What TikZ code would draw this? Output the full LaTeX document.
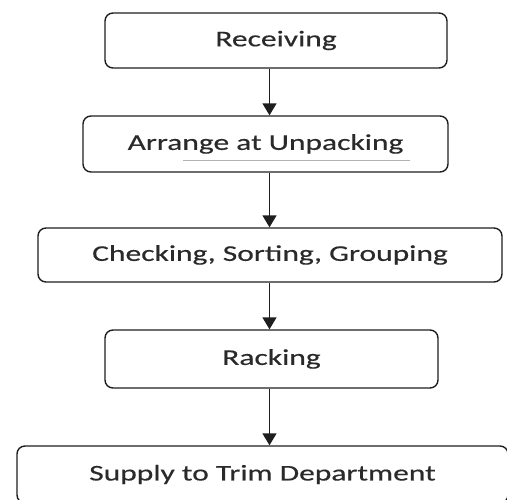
\documentclass[tikz,border=0pt]{standalone}
\usepackage{fontspec}
\newfontfamily\bxfont[FakeStretch=1.40,FakeBold=0.4]{Carlito}
\usetikzlibrary{arrows.meta}
\definecolor{txt}{HTML}{2A2A2A}
\definecolor{edge}{HTML}{1E1E1E}
\tikzset{
  stepbox/.style={draw=edge, line width=1.4pt, rounded corners=8pt, inner sep=0pt,
    text=txt, font=\bxfont\fontsize{22.5}{25}\selectfont},
  arr/.style={draw=edge, line width=1.5pt, -{Triangle[width=14pt,length=12pt]}}
}
\begin{document}
\begin{tikzpicture}[x=1pt,y=-1pt]
\useasboundingbox (0,0) rectangle (507,500);
\clip (0,0) rectangle (507,500);
\node[stepbox, minimum width=342pt, minimum height=55pt] (b1) at (276,40.5) {Receiving};
\node[stepbox, minimum width=365pt, minimum height=56pt] (b2) at (265.5,144) {Arrange at Unpacking};
\node[stepbox, minimum width=464pt, minimum height=54pt] (b3) at (270,255) {Checking, Sorting, Grouping};
\node[stepbox, minimum width=333pt, minimum height=58pt] (b4) at (271.5,359) {Racking};
\node[stepbox, minimum width=491pt, minimum height=57pt] (b5) at (262.5,474.5) {Supply to Trim Department};
\coordinate (ax) at (269.5,0);
\coordinate (ul1) at (183,160);
\coordinate (ul2) at (410,160);
\draw[gray!60, line width=0.6pt] (ul1) -- (ul2);
\draw[arr] (b1.south -| ax) -- (b2.north -| ax);
\draw[arr] (b2.south -| ax) -- (b3.north -| ax);
\draw[arr] (b3.south -| ax) -- (b4.north -| ax);
\draw[arr] (b4.south -| ax) -- (b5.north -| ax);
\end{tikzpicture}
\end{document}
